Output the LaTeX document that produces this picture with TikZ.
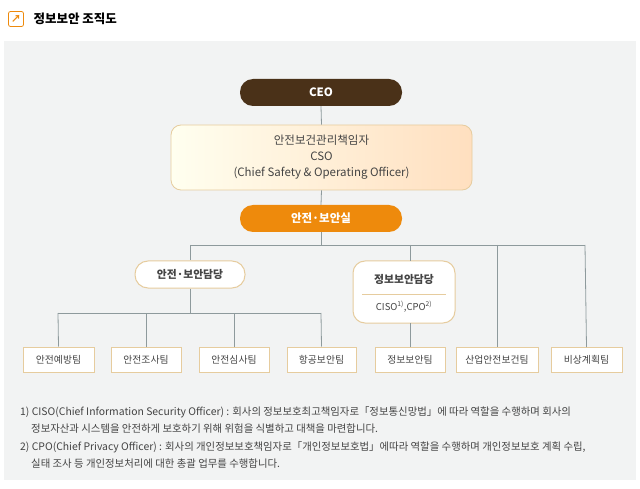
\documentclass[tikz,border=0pt]{standalone}
\usepackage{fontspec}
\setmainfont{Noto Sans CJK KR}
\usetikzlibrary{shadings}
\definecolor{ceo}{HTML}{4A3118}
\definecolor{org}{HTML}{EE8A0C}
\definecolor{tan}{HTML}{E6CC9E}
\definecolor{ln}{HTML}{8E9A9C}
\definecolor{txt}{HTML}{444444}
\definecolor{panel}{HTML}{F2F3F3}
\tikzset{
 pill/.style={rounded corners=13pt,minimum width=162pt,minimum height=27pt,font=\fontsize{11.5}{13}\selectfont\bfseries,text=white},
 team/.style={draw=tan,line width=1pt,fill=white,minimum height=25pt,font=\fontsize{9.8}{11}\selectfont,text=txt,inner sep=0pt},
 wl/.style={draw=ln,line width=0.8pt},
 fn/.style={anchor=west,font=\fontsize{10.4}{12}\selectfont,text=txt,inner sep=0pt}
}
\begin{document}
\begin{tikzpicture}[x=1pt,y=-1pt]
\useasboundingbox (0,0) rectangle (640,489);
\fill[white] (0,0) rectangle (640,489);
\fill[panel] (4,41) rectangle (636,480);
% title
\node[draw=org,fill=white,rounded corners=2pt,minimum size=15pt,inner sep=0pt,line width=0.8pt,text=org,font=\bfseries\fontsize{10}{10}\selectfont] (icon) at (16,19) {↗};
\node[anchor=west,font=\bfseries\fontsize{12.5}{14}\selectfont,text=black] (title) at (30,19) {정보보안 조직도};
\coordinate (h1) at (190,245); \coordinate (h2) at (585,245);
\coordinate (hc) at (321,245);
\coordinate (g1) at (58,313); \coordinate (g2) at (321,313);
\coordinate (gc) at (190,313);
% nodes
\node[pill,fill=ceo] (ceo) at (321,92.5) {CEO};
\node[rounded corners=10pt,draw=tan,line width=0.8pt,left color=yellow!6!white,right color=orange!25!white,minimum width=301pt,minimum height=65pt,align=center,font=\fontsize{11.5}{16}\selectfont,text=txt] (cso) at (321.5,157.5) {안전보건관리책임자\\CSO\\(Chief Safety \& Operating Officer)};
\node[pill,fill=org] (sec) at (321,218.5) {안전·보안실};
\node[draw=tan,line width=1pt,fill=white,rounded corners=13pt,minimum width=110pt,minimum height=27pt,font=\fontsize{10.8}{12}\selectfont\bfseries,text=txt] (sa) at (190,274.5) {안전·보안담당};
\node[draw=tan,line width=1pt,fill=white,rounded corners=12pt,minimum width=102pt,minimum height=62pt] (ia) at (404,292) {};
\node[font=\fontsize{10.8}{12}\selectfont\bfseries,text=txt] (iat) at (404,279) {정보보안담당};
\draw[tan,line width=0.8pt] (362,294) -- (446,294);
\node[font=\fontsize{9.5}{10}\selectfont,text=txt] (iab) at (404,307) {CISO\textsuperscript{1)},CPO\textsuperscript{2)}};
\node[team,minimum width=71pt] (t1) at (58.5,359.5) {안전예방팀};
\node[team,minimum width=70pt] (t2) at (146,359.5) {안전조사팀};
\node[team,minimum width=70pt] (t3) at (234,359.5) {안전심사팀};
\node[team,minimum width=69pt] (t4) at (321.5,359.5) {항공보안팀};
\node[team,minimum width=70pt] (t5) at (410,359.5) {정보보안팀};
\node[team,minimum width=82pt] (t6) at (497,359.5) {산업안전보건팀};
\node[team,minimum width=71pt] (t7) at (586.5,359.5) {비상계획팀};
% lines
\draw[wl] (ceo.south) -- (cso.north);
\draw[wl] (cso.south) -- (sec.north);
\draw[wl] (sec.south) -- (hc);
\draw[wl] (h1) -- (h2);
\draw[wl] (h1) -- (sa.north);
\draw[wl] (410,245) -- (410,261);
\draw[wl] (497,245) -- (t6.north);
\draw[wl] (h2) -- (586.5,347);
\draw[wl] (sa.south) -- (gc);
\draw[wl] (g1) -- (g2);
\draw[wl] (g1) -- (t1.north);
\draw[wl] (146,313) -- (t2.north);
\draw[wl] (234,313) -- (t3.north);
\draw[wl] (g2) -- (t4.north);
\draw[wl] (410,323) -- (t5.north);
% footnotes
\node[fn] (f1) at (20,412) {1) CISO(Chief Information Security Officer) : 회사의 정보보호최고책임자로「정보통신망법」에 따라 역할을 수행하며 회사의};
\node[fn] (f2) at (31,429) {정보자산과 시스템을 안전하게 보호하기 위해 위험을 식별하고 대책을 마련합니다.};
\node[fn] (f3) at (20,447) {2) CPO(Chief Privacy Officer) : 회사의 개인정보보호책임자로「개인정보보호법」에따라 역할을 수행하며 개인정보보호 계획 수립,};
\node[fn] (f4) at (31,464) {실태 조사 등 개인정보처리에 대한 총괄 업무를 수행합니다.};
\end{tikzpicture}
\end{document}
